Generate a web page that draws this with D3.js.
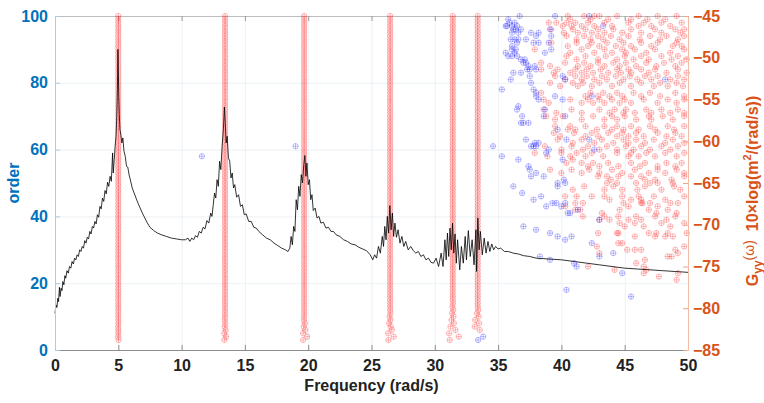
<!DOCTYPE html>
<html>
<head>
<meta charset="utf-8">
<script src="https://cdn.jsdelivr.net/npm/d3@7"></script>
<style>
  body { margin: 0; background: #fff; }
  svg { font-family: "Liberation Sans", Arial, Helvetica, sans-serif; }
</style>
</head>
<body>
<div class="container"></div>
<script>
// tick values
const freqTicks = [0, 5, 10, 15, 20, 25, 30, 35, 40, 45, 50];
const orderTicks = [0, 20, 40, 60, 80, 100];
const levelTicks = [-85, -80, -75, -70, -65, -60, -55, -50, -45];

// stable poles: one column per mode, from the start order up to order 100
const modeFreqs = [5.0, 13.43, 19.68, 26.47, 31.42, 33.39];
const modeStartOrder = [3, 3, 3, 3, 3, 6];
// frequency wander of the lowest orders of each column (rad/s)
const modeLowOffsets = [
  [0.02, -0.02, 0.01, 0, -0.01, 0.01],
  [-0.05, 0.08, -0.06, 0.05, -0.03, 0.02, -0.02],
  [-0.08, 0.24, -0.08, 0.08, -0.03, 0.05, -0.02],
  [-0.13, 0.29, -0.16, 0.13, 0.05, -0.08, 0.03, -0.04, 0.02],
  [-0.24, 0.47, -0.29, 0.21, -0.18, 0.08, -0.1, 0.05, -0.05, 0.04, -0.03, 0.02],
  [0.16, -0.24, 0.1, -0.2, 0.08, -0.05, 0.04]
];

// spurious poles [freq, order]
const redPoles = [
  [40.5,100],[40.7,99],[41.8,100],[42.3,99],[42.6,100],[43.0,100],[43.7,99],[44.4,100],[45.5,99],[46.1,100],[46.8,99],[47.6,100],[48.2,99],[49.1,100],
  [39.0,98],[39.6,98],[40.1,97],[40.4,98],[40.8,97],[41.1,98],[41.6,97],[42.1,98],[42.6,97],[43.4,98],[44.0,97],[45.3,98],[46.1,97],[46.5,98],[47.1,97],[47.9,98],[48.6,97],[49.5,98],[49.7,96],
  [39.2,96],[40.2,95],[40.9,96],[41.3,95],[41.9,96],[42.4,95],[42.9,96],[43.4,95],[44.1,96],[44.8,95],[45.5,96],[46.3,95],[47.4,96],[47.9,95],[49.0,96],[49.4,95],
  [40.4,94],[41.2,93],[41.8,94],[42.3,93],[42.9,94],[43.3,93],[43.9,94],[44.6,93],[45.3,94],[46.2,93],[47.0,94],[47.8,93],[48.3,94],[49.2,93],[49.7,94],
  [39.2,92],[40.5,91],[41.2,92],[42.1,91],[42.4,92],[43.0,91],[43.6,92],[44.3,91],[44.9,92],[45.5,91],[46.3,92],[47.1,91],[47.6,92],[48.8,91],[49.1,92],[49.5,91],
  [37.9,90],[40.7,89],[41.6,90],[42.6,89],[43.4,90],[44.0,89],[44.8,90],[45.1,89],[45.8,90],[46.7,89],[47.4,90],[48.6,89],[49.7,90],
  [40.4,88],[41.2,87],[41.9,88],[42.9,87],[43.5,88],[44.4,87],[45.0,88],[45.7,87],[46.3,88],[46.9,87],[47.9,88],[48.7,87],[49.2,88],[49.9,87],
  [38.4,86],[39.1,85],[40.3,86],[41.3,85],[41.8,86],[42.3,85],[42.9,86],[43.4,85],[44.1,86],[44.6,85],[45.1,86],[45.9,85],[46.7,86],[47.5,85],[48.1,86],[49.0,85],[49.5,86],
  [38.4,84],[39.4,83],[39.7,84],[40.7,83],[41.1,84],[41.6,83],[42.0,84],[42.5,83],[43.1,84],[43.7,83],[44.4,84],[44.7,83],[45.3,84],[45.5,83],[46.3,84],[46.9,83],[47.4,84],[48.3,83],[49.2,84],[49.9,83],
  [39.5,82],[40.3,81],[41.1,82],[41.6,81],[42.0,82],[42.6,81],[43.2,82],[43.6,81],[44.3,82],[44.9,81],[45.4,82],[46.0,81],[46.6,82],[47.1,81],[47.6,82],[48.6,81],[49.2,82],[49.7,81],
  [39.1,80],[39.9,79],[40.9,80],[41.3,79],[41.7,80],[42.4,79],[43.0,80],[44.0,79],[44.6,80],[45.5,79],[46.3,80],[47.3,79],[47.8,80],[48.4,79],[49.1,80],[49.6,79],
  [38.4,77],[41.9,76],[42.3,77],[42.9,76],[43.3,77],[43.8,76],[44.4,77],[44.8,76],[45.7,77],[46.3,76],[47.0,77],[47.8,76],[49.0,77],[49.7,76],
  [38.6,75],[39.0,74],[40.7,75],[41.6,74],[42.1,75],[42.5,74],[43.0,75],[43.4,74],[44.0,75],[44.6,74],[45.0,75],[45.5,74],[46.5,75],[47.6,74],[48.4,75],[49.1,74],[49.7,75],
  [38.6,72],[39.6,71],[40.8,72],[41.6,71],[43.0,72],[43.8,71],[44.2,72],[44.9,71],[45.1,72],[45.8,71],[46.7,72],[47.1,71],[47.9,72],[48.6,71],[49.2,72],[49.7,71],
  [38.8,70],[39.5,69],[40.1,70],[41.6,69],[42.5,70],[43.4,69],[44.0,70],[44.4,69],[45.0,70],[45.9,69],[46.9,70],[47.1,69],[48.0,70],[48.8,69],[49.7,70],
  [39.5,67],[40.5,66],[40.7,67],[41.1,66],[41.9,67],[42.8,66],[43.4,67],[44.0,66],[44.4,67],[44.9,66],[45.5,67],[46.1,66],[47.0,67],[47.4,66],[48.4,67],[48.9,66],[49.7,67],
  [39.4,65],[39.9,64],[41.0,65],[41.9,64],[42.4,65],[42.9,64],[43.7,65],[44.4,64],[44.8,65],[45.3,64],[45.9,65],[46.5,64],[47.6,65],[48.3,64],[49.0,65],[49.5,64],
  [39.7,63],[40.9,62],[41.6,63],[42.6,62],[43.2,63],[44.1,62],[44.9,63],[45.3,62],[45.9,63],[46.6,62],[47.3,63],[48.2,62],[48.8,63],[49.7,62],
  [38.7,61],[40.0,60],[40.8,61],[41.7,60],[42.1,61],[43.0,60],[43.6,61],[44.4,60],[45.1,61],[45.7,60],[46.3,61],[47.0,60],[47.9,61],[48.6,60],[49.2,61],
  [37.9,59],[38.9,58],[40.0,59],[40.7,58],[41.2,59],[41.9,58],[42.4,59],[43.3,58],[44.4,59],[45.3,58],[45.5,59],[46.1,58],[46.7,59],[47.4,58],[48.2,59],[49.1,58],[49.7,59],
  [40.4,56],[40.9,57],[41.6,56],[42.1,55],[42.5,56],[43.0,55],[43.7,56],[44.5,55],[45.5,56],[46.2,55],[46.6,56],[47.6,55],[48.3,56],[49.0,55],[49.5,56],
  [39.1,54],[40.0,53],[40.8,54],[41.6,53],[42.2,54],[43.0,53],[44.0,54],[44.8,53],[45.8,54],[46.9,53],[47.6,54],[48.2,53],[49.1,54],[49.7,53],
  [42.9,52],[43.6,52],[44.5,52],[45.5,52],[46.3,52],[47.4,51],[49.7,52],
  [43.6,50],[43.9,51],[44.4,50],[45.9,50],[46.6,51],[47.0,50],[47.6,50],[48.7,51],[48.8,50],
  [40.9,48],[41.8,49],[43.4,48],[44.1,49],[44.8,48],[46.0,48],[46.6,49],[47.9,48],[48.9,49],[49.4,48],
  [40.3,46],[41.2,46],[42.4,46],[43.4,46],[43.8,45],[44.8,46],[45.5,45],[46.1,46],[46.3,45],[47.3,46],[48.2,45],[49.7,46],
  [41.1,44],[41.7,44],[44.9,44],[45.3,43],[46.3,44],[46.4,44],[47.0,44],[47.6,43],[48.6,44],[49.2,44],
  [40.3,43],[41.1,42],[41.5,42],[43.2,41],[44.6,42],[46.9,42],[47.5,41],[48.4,42],[49.1,41],
  [41.7,40],[43.0,39],[43.4,40],[43.8,39],[44.5,40],[45.3,39],[45.9,40],[46.3,39],[47.4,40],[48.3,39],[49.0,40],
  [44.6,38],[45.0,37],[45.8,38],[46.5,37],[47.9,38],[48.6,37],[49.7,38],
  [42.9,35],[44.4,35],[44.5,35],[45.8,34],[46.9,35],[47.4,34],[47.5,35],[48.2,34],[48.4,35],[48.8,34],[49.9,35],
  [44.5,32],[44.8,32],[42.8,31],[45.2,30],[45.8,30],[46.3,30],[49.0,30],[49.7,31],
  [43.0,29],[48.4,28],[49.2,29],[48.7,28],
  [46.6,27],[45.9,26],[42.1,25],[46.5,25],[44.2,24],[46.7,24],[46.5,23],[49.2,23],[47.7,22],[49.1,21]
];
const bluePoles = [
  [35.8,99],[36.7,100],[35.9,98],[36.3,98],[35.6,97],[35.7,97],[36.1,97],[36.5,97],[36.2,96],[36.4,96],[36.8,96],[36.1,95],[36.6,95],
  [36.3,93],[36.6,93],[36.0,93],[37.2,93],[37.6,95],[38.2,95],[38.0,94],[37.8,92],[38.2,92],[39.1,96],[39.2,94],[39.0,92],[36.5,92],
  [36.1,91],[36.4,90],[36.1,90],[35.6,89],[35.8,88],[36.1,88],[36.3,89],[36.5,88],[36.8,87],[37.1,87],[37.0,86],[37.2,86],[37.4,85],
  [37.3,84],[37.9,85],[38.0,84],[37.5,84],[36.8,83],[36.2,83],[36.0,81],[37.5,82],[40.1,82],[40.3,81],[38.7,89],[39.2,90],[39.5,100],
  [42.2,100],[43.3,97],[37.6,80],[37.8,78],[38.0,77],[35.3,78],[48.2,81],
  [38.0,76],[38.2,75],[39.5,76],[40.1,75],[36.6,73],[36.5,72],[38.7,72],[38.6,70],[36.9,70],[36.8,68],[37.0,68],[37.4,68],[40.3,70],
  [39.7,66],[40.4,63],[37.2,63],[37.9,62],[38.2,62],[37.6,61],[37.8,61],[38.0,61],[42.2,63],[42.6,60],[39.0,60],[38.8,59],[34.6,61],
  [35.3,58],[36.6,57],[40.1,57],[37.4,55],[37.5,54],[38.0,53],[42.4,76],
  [37.6,52],[38.6,52],[40.2,51],[40.3,50],[39.7,50],[39.7,49],[36.2,49],[36.9,47],[37.8,45],[38.4,46],[38.8,43],[39.3,44],[39.6,44],
  [40.0,43],[40.3,44],[41.3,42],[40.5,41],[40.7,41],[43.0,39],[37.0,37],[38.0,36],[39.1,35],[39.7,34],[40.3,33],[40.8,34],[42.4,32],
  [44.1,29],[43.0,28],[38.3,28],[39.1,27],[41.0,26],[41.2,25],[44.8,23],[40.4,18],[45.5,16],
  [33.42,3],[33.82,4],[11.6,58],[19.0,61]
];

// response spectrum G_yy [freq (rad/s), level (dB)]
const psd = [
  [0.00,-80.6],[0.08,-79.6],[0.15,-79.9],[0.22,-78.8],[0.28,-79.2],[0.35,-77.5],[0.40,-78.6],[0.48,-77.6],[0.55,-77.9],[0.62,-76.8],
  [0.70,-77.2],[0.78,-76.1],[0.85,-76.4],[0.95,-75.5],[1.05,-75.8],[1.15,-75.0],[1.25,-75.2],[1.35,-74.4],[1.45,-74.7],[1.55,-74.0],
  [1.65,-74.2],[1.75,-73.6],[1.85,-73.8],[1.95,-73.0],[2.05,-73.2],[2.15,-72.6],[2.25,-72.8],[2.35,-71.9],[2.45,-72.2],[2.55,-71.5],
  [2.65,-71.7],[2.75,-70.8],[2.85,-71.1],[2.95,-70.2],[3.05,-70.4],[3.15,-69.6],[3.25,-69.9],[3.35,-68.8],[3.45,-69.1],[3.55,-67.8],
  [3.65,-68.1],[3.75,-66.8],[3.85,-67.2],[3.95,-65.9],[4.05,-66.3],[4.15,-64.9],[4.25,-65.4],[4.35,-64.2],[4.45,-64.8],[4.55,-61.4],
  [4.60,-63.8],[4.68,-62.2],[4.75,-60.6],[4.82,-59.4],[4.88,-57.0],[4.93,-53.8],[4.97,-49.0],[5.00,-51.4],[5.04,-54.6],[5.08,-56.8],
  [5.13,-58.6],[5.20,-59.2],[5.28,-60.2],[5.36,-59.6],[5.45,-61.2],[5.55,-61.8],[5.65,-63.0],[5.75,-63.1],[5.85,-64.0],[5.95,-64.6],
  [6.10,-65.6],[6.25,-66.2],[6.40,-66.8],[6.55,-67.4],[6.70,-67.9],[6.90,-68.6],[7.10,-69.2],[7.30,-69.8],[7.50,-70.3],[7.80,-70.7],
  [8.10,-71.0],[8.40,-71.2],[8.80,-71.4],[9.20,-71.6],[9.60,-71.7],[10.00,-71.8],[10.30,-71.8],[10.50,-71.6],[10.65,-72.0],[10.80,-71.6],
  [10.95,-71.8],[11.10,-71.3],[11.25,-71.5],[11.40,-70.8],[11.55,-71.0],[11.70,-70.3],[11.85,-70.5],[12.00,-69.5],[12.15,-69.8],[12.30,-68.6],
  [12.40,-69.0],[12.50,-67.6],[12.60,-66.2],[12.70,-66.8],[12.80,-64.6],[12.90,-65.4],[13.00,-62.4],[13.10,-63.4],[13.20,-60.6],[13.30,-58.6],
  [13.38,-55.9],[13.45,-57.8],[13.52,-60.2],[13.60,-59.4],[13.70,-62.0],[13.80,-62.4],[13.90,-64.4],[14.00,-63.8],[14.10,-65.6],[14.20,-65.2],
  [14.35,-66.7],[14.50,-66.4],[14.65,-67.8],[14.80,-67.6],[14.95,-68.8],[15.10,-68.7],[15.30,-69.6],[15.50,-69.6],[15.70,-70.3],[15.90,-70.4],
  [16.10,-70.8],[16.40,-71.2],[16.70,-71.6],[17.00,-71.8],[17.30,-72.2],[17.60,-72.5],[17.90,-72.8],[18.20,-73.0],[18.40,-73.2],[18.55,-72.8],
  [18.65,-71.4],[18.75,-72.4],[18.85,-70.2],[18.95,-70.8],[19.05,-67.0],[19.15,-68.2],[19.25,-65.4],[19.35,-66.6],[19.45,-64.0],[19.55,-65.0],
  [19.65,-62.8],[19.74,-61.7],[19.82,-64.2],[19.90,-62.6],[20.00,-65.2],[20.10,-64.6],[20.20,-67.0],[20.30,-66.4],[20.40,-68.3],[20.55,-68.0],
  [20.70,-69.2],[20.85,-69.0],[21.00,-69.8],[21.20,-69.7],[21.40,-70.4],[21.60,-70.3],[21.80,-70.8],[22.00,-70.8],[22.20,-71.2],[22.50,-71.4],
  [22.80,-71.8],[23.10,-72.0],[23.40,-72.3],[23.70,-72.4],[24.00,-72.7],[24.30,-72.9],[24.60,-73.1],[24.90,-73.6],[25.10,-74.2],[25.25,-73.6],
  [25.40,-74.0],[25.55,-72.6],[25.70,-73.4],[25.85,-71.4],[25.95,-72.6],[26.05,-70.2],[26.15,-71.8],[26.25,-69.0],[26.35,-71.0],[26.45,-67.7],
  [26.55,-70.6],[26.65,-68.6],[26.75,-71.4],[26.85,-69.8],[26.97,-71.5],[27.10,-70.6],[27.25,-72.2],[27.40,-71.4],[27.55,-72.6],[27.70,-72.0],
  [27.90,-73.0],[28.10,-72.6],[28.30,-73.1],[28.50,-73.4],[28.70,-73.2],[28.90,-73.8],[29.10,-73.6],[29.30,-74.2],[29.50,-74.0],[29.70,-74.5],
  [29.90,-74.6],[30.10,-74.0],[30.30,-75.0],[30.50,-73.4],[30.65,-75.0],[30.80,-71.8],[30.90,-74.2],[31.00,-71.0],[31.10,-73.8],[31.20,-70.4],
  [31.30,-73.0],[31.40,-69.8],[31.50,-73.4],[31.60,-71.1],[31.70,-74.6],[31.80,-71.8],[31.97,-75.4],[32.10,-72.6],[32.25,-74.6],[32.40,-71.4],
  [32.50,-74.2],[32.65,-70.7],[32.80,-73.8],[32.95,-71.8],[33.10,-74.8],[33.25,-70.6],[33.30,-75.6],[33.40,-69.2],[33.50,-73.0],[33.60,-70.8],
  [33.75,-73.6],[33.90,-71.6],[34.05,-73.4],[34.20,-72.0],[34.35,-73.2],[34.50,-72.3],[34.65,-73.0],[34.80,-72.6],[35.00,-72.9],[35.20,-72.8],
  [35.50,-73.2],[35.80,-73.2],[36.20,-73.4],[36.60,-73.5],[37.00,-73.7],[37.50,-73.8],[38.00,-74.0],[39.00,-74.1],[40.00,-74.2],[41.00,-74.4],
  [42.00,-74.6],[43.00,-74.8],[44.00,-75.0],[45.00,-75.2],[46.00,-75.3],[47.00,-75.4],[48.00,-75.5],[49.00,-75.6],[50.00,-75.7]
];

const width = 764;
const height = 403;
const margin = { top: 16, right: 76, bottom: 53, left: 55 };
const chartWidth = width - margin.left - margin.right;
const chartHeight = height - margin.top - margin.bottom;

const leftColor = '#0072BD';
const rightColor = '#D95319';

const svg = d3.select('.container').append('svg').attr('width', width).attr('height', height);
const chart = svg.append('g').attr('transform', `translate(${margin.left},${margin.top})`);

const xScale = d3.scaleLinear().domain([0, 50]).range([0, chartWidth]);
const yOrder = d3.scaleLinear().domain([0, 100]).range([chartHeight, 0]);
const yLevel = d3.scaleLinear().domain([-85, -45]).range([chartHeight, 0]);

// grid
const gridGroup = chart.append('g').attr('class', 'grid');
gridGroup.append('g')
  .attr('transform', `translate(0,${chartHeight})`)
  .call(d3.axisBottom(xScale).tickValues(freqTicks.slice(1, -1)).tickSize(-chartHeight).tickFormat(''))
  .call(g => g.select('.domain').remove())
  .call(g => g.selectAll('line').attr('stroke', '#e6edf2').attr('stroke-width', 0.8));
gridGroup.append('g')
  .call(d3.axisLeft(yOrder).tickValues(orderTicks.slice(1, -1)).tickSize(-chartWidth).tickFormat(''))
  .call(g => g.select('.domain').remove())
  .call(g => g.selectAll('line').attr('stroke', '#e6edf2').attr('stroke-width', 0.8));

// top border with inward ticks
chart.append('g')
  .call(d3.axisTop(xScale).tickValues(freqTicks).tickSizeInner(-5).tickSizeOuter(0).tickFormat(''))
  .call(g => g.select('.domain').attr('stroke', '#bdbdbd'))
  .call(g => g.selectAll('line').attr('stroke', '#9a9a9a'));

// markers
const r = 2.7;
const markerPath = (cx, cy) =>
  `M${cx - r},${cy}a${r},${r} 0 1,0 ${2 * r},0a${r},${r} 0 1,0 ${-2 * r},0` +
  `M${cx - r},${cy}h${2 * r}M${cx},${cy - r}v${2 * r}`;

const stablePoles = [];
modeFreqs.forEach((f, i) => {
  d3.range(modeStartOrder[i], 101).forEach((o, k) => {
    const off = k < modeLowOffsets[i].length ? modeLowOffsets[i][k] : 0;
    stablePoles.push([f + off, o]);
  });
});

const poleGroup = chart.append('g').attr('class', 'poles');
poleGroup.selectAll('path.red')
  .data(stablePoles.concat(redPoles))
  .join('path')
  .attr('class', 'red')
  .attr('d', d => markerPath(xScale(d[0]), yOrder(d[1])))
  .attr('fill', 'none')
  .attr('stroke', '#ff0000')
  .attr('stroke-opacity', 0.33)
  .attr('stroke-width', 0.8);
poleGroup.selectAll('path.blue')
  .data(bluePoles)
  .join('path')
  .attr('class', 'blue')
  .attr('d', d => markerPath(xScale(d[0]), yOrder(d[1])))
  .attr('fill', 'none')
  .attr('stroke', '#0000ff')
  .attr('stroke-opacity', 0.33)
  .attr('stroke-width', 0.8);

// spectrum
const line = d3.line().x(d => xScale(d[0])).y(d => yLevel(d[1]));
chart.append('path')
  .attr('d', line(psd))
  .attr('fill', 'none')
  .attr('stroke', '#000')
  .attr('stroke-width', 0.8);

// axes
const bottomAxisGroup = chart.append('g')
  .attr('transform', `translate(0,${chartHeight})`)
  .call(d3.axisBottom(xScale).tickValues(freqTicks).tickSizeInner(-5).tickSizeOuter(0).tickPadding(10));
bottomAxisGroup.select('.domain').attr('stroke', '#8c8c8c');
bottomAxisGroup.selectAll('line').attr('stroke', '#8c8c8c');
bottomAxisGroup.selectAll('text').attr('fill', '#222').attr('font-size', 16).attr('font-weight', 'bold');

const leftAxisGroup = chart.append('g')
  .call(d3.axisLeft(yOrder).tickValues(orderTicks).tickSizeInner(-5).tickSizeOuter(0).tickPadding(7));
leftAxisGroup.select('.domain').attr('stroke', '#a9cbe6');
leftAxisGroup.selectAll('line').attr('stroke', '#a9cbe6');
leftAxisGroup.selectAll('text').attr('fill', leftColor).attr('font-size', 16).attr('font-weight', 'bold');

const rightAxisGroup = chart.append('g')
  .attr('transform', `translate(${chartWidth},0)`)
  .call(d3.axisRight(yLevel).tickValues(levelTicks).tickSizeInner(-5).tickSizeOuter(0).tickPadding(5));
rightAxisGroup.select('.domain').attr('stroke', '#f3bca6');
rightAxisGroup.selectAll('line').attr('stroke', '#f0a585');
rightAxisGroup.selectAll('text').attr('fill', rightColor).attr('font-size', 16).attr('font-weight', 'bold');

// labels
svg.append('text')
  .text('Frequency (rad/s)')
  .attr('x', margin.left + chartWidth / 2)
  .attr('y', height - 12)
  .attr('text-anchor', 'middle')
  .attr('font-size', 16)
  .attr('font-weight', 'bold')
  .attr('fill', '#222');

svg.append('text')
  .text('order')
  .attr('transform', `translate(19,${margin.top + chartHeight / 2}) rotate(-90)`)
  .attr('text-anchor', 'middle')
  .attr('font-size', 16)
  .attr('font-weight', 'bold')
  .attr('fill', leftColor);

const rightLabel = svg.append('text')
  .attr('transform', `translate(758,${margin.top + chartHeight / 2 + 8}) rotate(-90)`)
  .attr('text-anchor', 'middle')
  .attr('font-size', 16)
  .attr('font-weight', 'bold')
  .attr('fill', rightColor);
rightLabel.append('tspan').text('G');
rightLabel.append('tspan').text('yy').attr('font-size', 12).attr('dy', 4);
rightLabel.append('tspan').text('(ω)').attr('font-size', 14).attr('font-weight', 'normal').attr('dy', -8);
rightLabel.append('tspan').text('  10×log(m').attr('dy', 4).attr('xml:space', 'preserve');
rightLabel.append('tspan').text('2').attr('font-size', 11).attr('dy', -7);
rightLabel.append('tspan').text('/(rad/s))').attr('dy', 7);
</script>
</body>
</html>
